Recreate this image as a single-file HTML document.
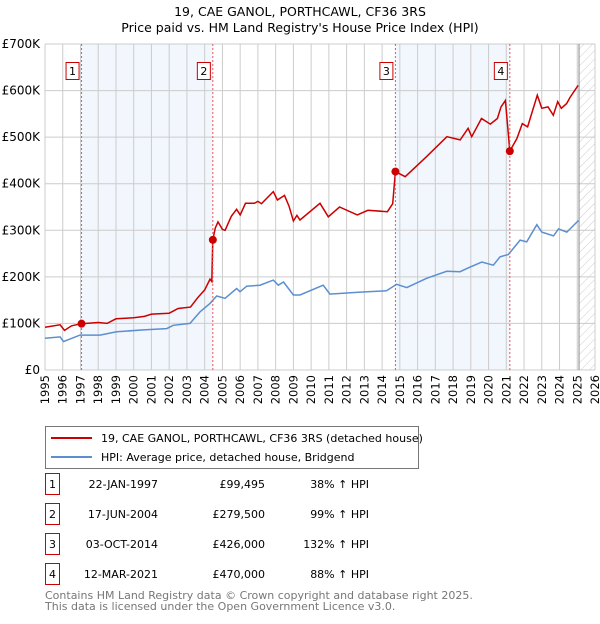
<!DOCTYPE html>
<html><head><meta charset="utf-8"><style>
body{margin:0;background:#fff;width:600px;height:620px;overflow:hidden;font-family:"DejaVu Sans","Liberation Sans",sans-serif}
svg text{font-family:"DejaVu Sans","Liberation Sans",sans-serif}
</style></head><body>
<svg id="chart" width="600" height="620" xmlns="http://www.w3.org/2000/svg">
<text x="300" y="16" font-size="12.5" text-anchor="middle">19, CAE GANOL, PORTHCAWL, CF36 3RS</text>
<text x="300" y="32" font-size="12.5" text-anchor="middle">Price paid vs. HM Land Registry's House Price Index (HPI)</text>
<g id="shade"></g><g id="grid"></g><g id="series"></g><g id="marks"></g>
<g>
<rect x="45.5" y="426.5" width="373" height="42" fill="#fff" stroke="#777"/>
<line x1="51" y1="438" x2="92" y2="438" stroke="#cc0000" stroke-width="2"/>
<text x="101" y="442" font-size="11">19, CAE GANOL, PORTHCAWL, CF36 3RS (detached house)</text>
<line x1="51" y1="457" x2="92" y2="457" stroke="#5b8fd0" stroke-width="2"/>
<text x="101" y="461" font-size="11">HPI: Average price, detached house, Bridgend</text>
</g>
<g id="table" font-size="11"></g>
<text x="45" y="599" font-size="11" fill="#777">Contains HM Land Registry data © Crown copyright and database right 2025.</text>
<text x="45" y="610" font-size="11" fill="#777">This data is licensed under the Open Government Licence v3.0.</text>
</svg>
<script>
const hpiYears=[1995.0,1995.85,1996.04,1996.97,1998.1,1999.04,2000.54,2001.86,2002.23,2003.17,2003.74,2004.3,2004.68,2005.15,2005.8,2005.99,2006.37,2007.12,2007.87,2008.15,2008.44,2009.0,2009.37,2010.68,2011.06,2012.66,2014.25,2014.82,2015.39,2016.51,2017.64,2018.39,2018.96,2019.62,2020.27,2020.65,2021.12,2021.78,2022.15,2022.72,2023.0,2023.66,2023.94,2024.41,2025.07];
const hpiValues=[68,71,61,75,75,82,86,89,96,100,125,143,159,154,175,168,180,182,193,182,189,161,161,182,163,167,170,184,177,197,212,211,221,232,225,243,248,279,275,312,296,288,303,296,321];
const priceYears=[1995.0,1995.85,1996.1,1996.5,1997.06,1998,1998.5,1999,2000,2000.6,2001,2002,2002.5,2003.2,2003.6,2004.0,2004.3,2004.4,2004.46,2004.6,2004.75,2005.0,2005.15,2005.5,2005.8,2006.0,2006.3,2006.8,2007.0,2007.2,2007.87,2008.1,2008.5,2008.75,2009.0,2009.2,2009.37,2010.5,2010.97,2011.6,2012.6,2013.2,2014.3,2014.6,2014.75,2015.3,2016.5,2017.65,2018.4,2018.85,2019.05,2019.6,2020.1,2020.5,2020.7,2020.95,2021.2,2021.6,2021.9,2022.2,2022.75,2023.0,2023.35,2023.65,2023.9,2024.1,2024.4,2024.6,2025.05];
const priceValues=[92,97,85,95,99.5,102,100,110,112,115,120,122,132,135,155,172,195,190,279.5,305,318,302,300,330,345,333,358,358,362,357,383,365,375,352,320,332,322,358,329,350,333,343,340,357,426,415,458,501,494,519,501,540,528,540,565,579,470,497,529,522,590,562,565,547,576,562,572,586,611];
const saleYears=[1997.06,2004.46,2014.75,2021.2];
const saleValues=[99.495,279.5,426,470];
const saleLabels=["1","2","3","4"];
const saleDates=["22-JAN-1997","17-JUN-2004","03-OCT-2014","12-MAR-2021"];
const salePrices=["£99,495","£279,500","£426,000","£470,000"];
const saleHpi=["38% ↑ HPI","99% ↑ HPI","132% ↑ HPI","88% ↑ HPI"];
const yTicks=[0,100,200,300,400,500,600,700];
const yTickLabels=["£0","£100K","£200K","£300K","£400K","£500K","£600K","£700K"];
const NS="http://www.w3.org/2000/svg";
const X0=45,X1=595,Y0=370,Y1=44;
const x=y=>X0+(y-1995)/(2026-1995)*(X1-X0);
const yv=v=>Y0-v/700*(Y0-Y1);
function mk(p,tag,a){const e=document.createElementNS(NS,tag);for(const k in a)e.setAttribute(k,a[k]);p.appendChild(e);return e;}
const shade=document.getElementById('shade'),grid=document.getElementById('grid'),ser=document.getElementById('series'),marks=document.getElementById('marks'),tbl=document.getElementById('table');
for(let i=0;i<4;i+=2){const r=mk(shade,'rect',{x:x(saleYears[i]),y:Y1,width:x(saleYears[i+1])-x(saleYears[i]),height:Y0-Y1,fill:'#eef3fc',opacity:0.75});

}
const defs=mk(shade,'defs',{});const pat=mk(defs,'pattern',{id:'hatch',width:6,height:6,patternUnits:'userSpaceOnUse',patternTransform:'rotate(45)'});mk(pat,'line',{x1:0,y1:0,x2:0,y2:6,stroke:'#ccc','stroke-width':1});
const hr=mk(shade,'rect',{x:x(2025.1),y:Y1,width:X1-x(2025.1),height:Y0-Y1,fill:'url(#hatch)'});


for(let yr=1995;yr<=2026;yr++){const gx=x(yr);mk(grid,'line',{x1:gx,y1:Y1,x2:gx,y2:Y0,stroke:'#ccc'});
const t=mk(grid,'text',{x:0,y:0,'font-size':11.5,'text-anchor':'end',transform:'translate('+(gx+4)+',375) rotate(-90)'});t.textContent=yr;

}
yTicks.forEach((v,i)=>{mk(grid,'line',{x1:X0,y1:yv(v),x2:X1,y2:yv(v),stroke:'#ccc'});const t=mk(grid,'text',{x:40,y:yv(v)+4,'font-size':12,'text-anchor':'end'});t.textContent=yTickLabels[i];

});
mk(grid,'line',{x1:x(2025.1),y1:Y1,x2:x(2025.1),y2:Y0,stroke:'#888'});
const pts=(a,b)=>a.map((d,i)=>x(d).toFixed(1)+','+yv(b[i]).toFixed(1)).join(' ');
const hl=mk(ser,'polyline',{points:pts(hpiYears,hpiValues),fill:'none',stroke:'#5b8fd0','stroke-width':1.5});


const pl=mk(ser,'polyline',{points:pts(priceYears,priceValues),fill:'none',stroke:'#cc0000','stroke-width':1.5});


saleYears.forEach((d,i)=>{const sx=x(d);
mk(marks,'line',{x1:sx,y1:Y1,x2:sx,y2:Y0,stroke:'#ee5555','stroke-dasharray':'2,2'});
const c=mk(marks,'circle',{cx:sx,cy:yv(saleValues[i]),r:4,fill:'#cc0000'});


mk(marks,'rect',{x:sx-15.5,y:62.5,width:13,height:17,fill:'#fff',stroke:'#cc0000'});
const t=mk(marks,'text',{x:sx-9,y:75,'font-size':11,'text-anchor':'middle'});t.textContent=saleLabels[i];


const ry=484+i*30;
const b=mk(tbl,'rect',{x:45.5,y:ry-10.5,width:14,height:21,fill:'#fff',stroke:'#cc0000'});


const cells=[[52.5,saleLabels[i],'middle'],[158,saleDates[i],'end'],[265,salePrices[i],'end'],[369,saleHpi[i],'end']];
cells.forEach(c2=>{const tt=mk(tbl,'text',{x:c2[0],y:ry+4,'text-anchor':c2[2]});tt.textContent=c2[1];

});});
</script>
</body></html>
